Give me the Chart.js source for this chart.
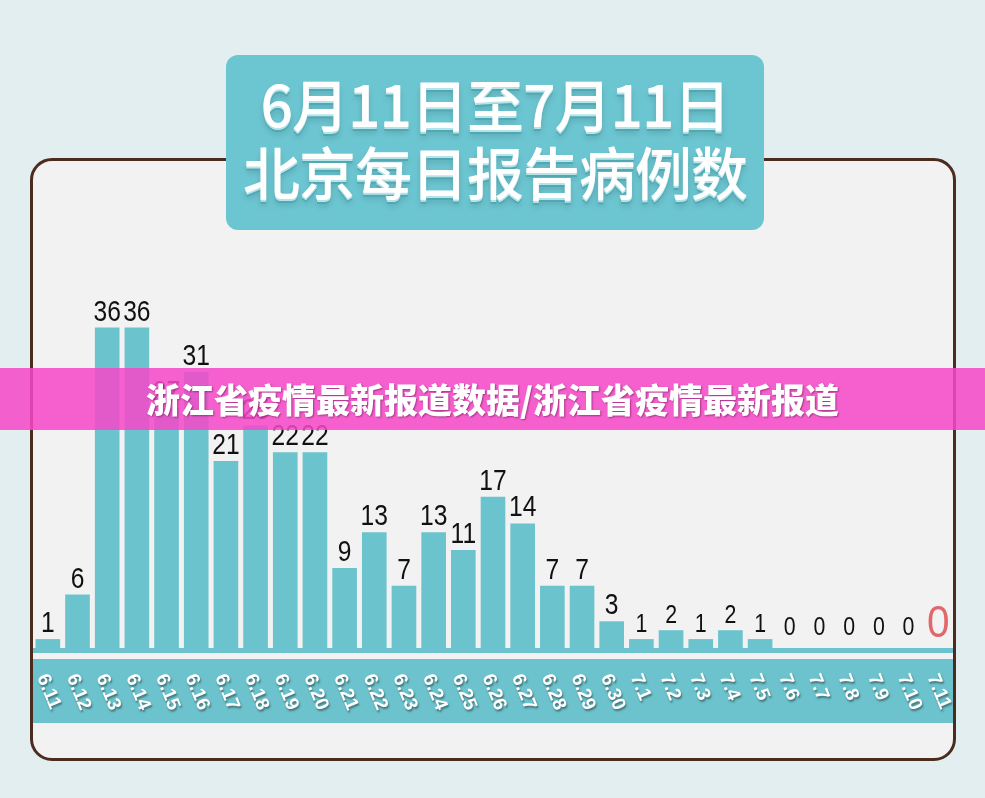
<!DOCTYPE html>
<html lang="zh-CN">
<head>
<meta charset="utf-8">
<title>北京每日报告病例数</title>
<script src="https://cdn.jsdelivr.net/npm/chart.js@4/dist/chart.umd.min.js"></script>
<style>
  html, body { margin: 0; padding: 0; }
  body {
    width: 985px; height: 798px; overflow: hidden; position: relative;
    background: #e2eef0;
    font-family: "Noto Sans CJK SC", "Noto Sans", sans-serif;
  }
  .card {
    position: absolute; left: 30px; top: 158px; width: 926px; height: 603px;
    box-sizing: border-box; border: 3px solid #4d2c20; border-radius: 22px;
    background: #f2f2f2;
  }
  .strip { position: absolute; left: 33px; top: 648px; width: 920px; height: 5px; background: #6cc3cd; }
  .band { position: absolute; left: 33px; top: 659px; width: 920px; height: 64px; background: #6cc3cd; }
  #chart { position: absolute; left: 0; top: 0; }
  .title {
    position: absolute; left: 226px; top: 55px; width: 538px; height: 175px;
    background: #6cc6d1; border-radius: 12px;
    color: #fff; text-align: center; font-size: 57px; font-weight: 500;
    letter-spacing: -1px; line-height: 68px;
    text-shadow: 0 2px 0 #b4e3e8, 0 4px 0 #4fa8b4, 0 6px 6px rgba(0,0,0,0.15);
  }
  .title div:first-child { margin-top: 13px; }
  .banner {
    position: absolute; left: 0; top: 368px; width: 985px; height: 62px;
    background: rgba(246, 72, 200, 0.86);
    color: #fff; text-align: center; font-size: 34px; font-weight: 900;
    line-height: 62px; text-shadow: 1px 1px 2px rgba(90, 0, 60, 0.5);
  }
</style>
</head>
<body>
<div class="card"></div>
<div class="strip"></div>
<div class="band"></div>
<canvas id="chart" width="985" height="798"></canvas>
<div class="title"><div>6月11日至7月11日</div><div>北京每日报告病例数</div></div>
<div class="banner">浙江省疫情最新报道数据/浙江省疫情最新报道</div>

<script>
// 日期 (6.11 - 7.11)
const dates = [
  '6.11', '6.12', '6.13', '6.14', '6.15', '6.16', '6.17', '6.18', '6.19', '6.20',
  '6.21', '6.22', '6.23', '6.24', '6.25', '6.26', '6.27', '6.28', '6.29', '6.30',
  '7.1', '7.2', '7.3', '7.4', '7.5', '7.6', '7.7', '7.8', '7.9', '7.10', '7.11'
];

// 每日报告病例数
const cases = [
  1, 6, 36, 36, 27, 31, 21, 25, 22, 22,
  9, 13, 7, 13, 11, 17, 14, 7, 7, 3,
  1, 2, 1, 2, 1, 0, 0, 0, 0, 0, 0
];

const yMax = 40;

// 柱子上方的数值 (字形稍窄)
const valueLabels = {
  id: 'valueLabels',
  afterDatasetsDraw(chart) {
    const ctx = chart.ctx;
    const meta = chart.getDatasetMeta(0);
    const last = meta.data.length - 1;
    meta.data.forEach((bar, i) => {
      const v = cases[i];
      let size = i >= 20 ? 26 : 30;
      let color = '#111';
      let gap = v === 0 ? 13 : 7;
      let squeeze = 0.82;
      if (i === last) { size = 45; color = '#e2676a'; gap = 11; squeeze = 0.9; }
      ctx.save();
      ctx.translate(bar.x, bar.y - gap);
      ctx.scale(squeeze, 1);
      ctx.font = size + 'px "Liberation Sans", Arial, sans-serif';
      ctx.textAlign = 'center';
      ctx.textBaseline = 'alphabetic';
      ctx.fillStyle = color;
      ctx.fillText(String(v), 0, 0);
      ctx.restore();
    });
  }
};

// 斜放的日期标签
const dateLabels = {
  id: 'dateLabels',
  afterDraw(chart) {
    const ctx = chart.ctx;
    const xScale = chart.scales.x;
    ctx.save();
    ctx.font = 'bold 19px "Liberation Sans", Arial, sans-serif';
    ctx.fillStyle = '#ffffff';
    ctx.textAlign = 'left';
    ctx.textBaseline = 'middle';
    ctx.shadowColor = 'rgba(40, 60, 60, 0.6)';
    ctx.shadowOffsetX = 1;
    ctx.shadowOffsetY = 2;
    ctx.shadowBlur = 2;
    dates.forEach((d, i) => {
      const px = xScale.getPixelForValue(i);
      ctx.save();
      ctx.translate(px - 6, 675);
      ctx.rotate(68 * Math.PI / 180);
      ctx.fillText(d, 0, 0);
      ctx.restore();
    });
    ctx.restore();
  }
};

new Chart(document.getElementById('chart'), {
  type: 'bar',
  data: {
    labels: dates,
    datasets: [{
      label: '报告病例数',
      data: cases,
      backgroundColor: '#6ac3cd',
      borderWidth: 0,
      barPercentage: 0.83,
      categoryPercentage: 1.0
    }]
  },
  options: {
    responsive: false,
    animation: false,
    layout: { padding: { left: 33, right: 32, top: 292, bottom: 150 } },
    scales: {
      x: { display: false },
      y: { display: false, min: 0, max: yMax }
    },
    plugins: {
      legend: { display: false },
      tooltip: { enabled: false }
    }
  },
  plugins: [valueLabels, dateLabels]
});
</script>
</body>
</html>
